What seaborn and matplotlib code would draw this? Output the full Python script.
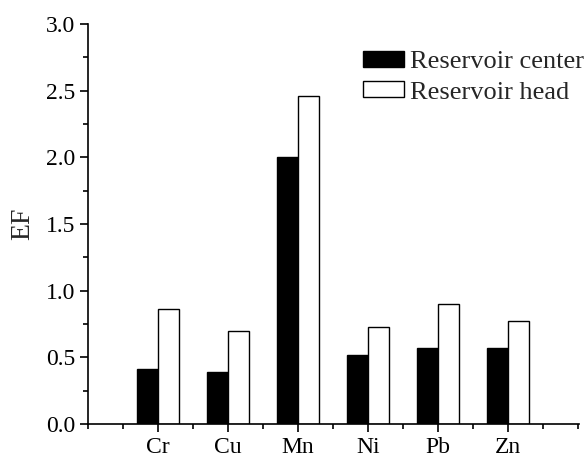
import matplotlib
matplotlib.use("Agg")
import matplotlib.pyplot as plt
import seaborn as sns
import pandas as pd
from matplotlib.ticker import MultipleLocator

metals = ["Cr", "Cu", "Mn", "Ni", "Pb", "Zn"]
center = [0.41, 0.39, 2.00, 0.52, 0.57, 0.57]
head = [0.86, 0.70, 2.46, 0.73, 0.90, 0.77]
series = ["Reservoir center", "Reservoir head"]

df = pd.DataFrame({
    "Metal": metals * 2,
    "EF": center + head,
    "Site": [series[0]] * len(metals) + [series[1]] * len(metals),
})

sns.set_style("ticks")
plt.rcParams["font.family"] = ["Liberation Serif", "DejaVu Serif"]
plt.rcParams["mathtext.fontset"] = "stix"

fig = plt.figure(figsize=(5.87, 4.58), dpi=100)
ax = fig.add_axes([0.15, 0.0742, 0.836, 0.8734])

sns.barplot(data=df, x="Metal", y="EF", hue="Site", order=metals,
            hue_order=series, palette=["black", "white"], width=0.6,
            edgecolor="black", linewidth=1.0, saturation=1, ax=ax)

ax.set_xlim(-1, 6.01)
ax.set_ylim(0, 3.0)
ax.yaxis.set_major_locator(MultipleLocator(0.5))
ax.yaxis.set_minor_locator(MultipleLocator(0.25))
ax.xaxis.set_minor_locator(MultipleLocator(0.5))
ax.yaxis.set_major_formatter(matplotlib.ticker.FormatStrFormatter("%.1f"))

for s in ["top", "right"]:
    ax.spines[s].set_visible(False)
for s in ["left", "bottom"]:
    ax.spines[s].set_linewidth(1.2)
    ax.spines[s].set_color("black")

ax.tick_params(axis="both", which="major", direction="out", length=6,
               width=1.2, labelsize=17, colors="black", pad=3)
ax.tick_params(axis="both", which="minor", direction="out", length=3.5,
               width=1.2, colors="black")

ax.set_xlabel("")
ax.set_ylabel("EF", fontsize=20, labelpad=8)

leg = ax.legend(loc="upper left", bbox_to_anchor=(0.56, 0.932), frameon=False,
                fontsize=19, handlelength=1.55, handleheight=0.55,
                handletextpad=0.25, labelspacing=0.3, borderaxespad=0,
                borderpad=0)

fig.savefig("out.png", dpi=100)
